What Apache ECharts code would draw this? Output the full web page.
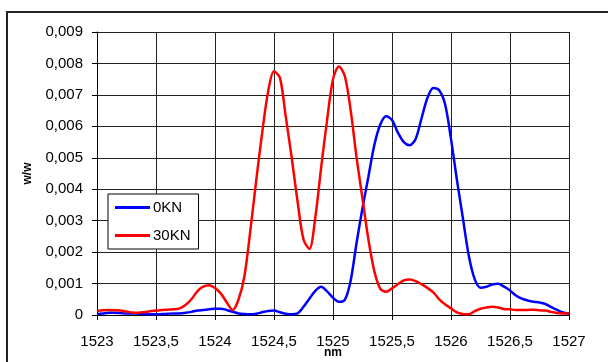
<!DOCTYPE html>
<html>
<head>
<meta charset="utf-8">
<script src="https://cdn.jsdelivr.net/npm/echarts@6/dist/echarts.min.js"></script>
<style>
html, body { margin: 0; padding: 0; background: #fff; }
#main { width: 608px; height: 362px; }
</style>
</head>
<body>
<div id="main"></div>
<script>
// wavelength grid (nm), 0.05 step
var wavelength = [
  1523.00, 1523.05, 1523.10, 1523.15, 1523.20, 1523.25, 1523.30, 1523.35, 1523.40, 1523.45,
  1523.50, 1523.55, 1523.60, 1523.65, 1523.70, 1523.75, 1523.80, 1523.85, 1523.90, 1523.95,
  1524.00, 1524.05, 1524.10, 1524.15, 1524.20, 1524.25, 1524.30, 1524.35, 1524.40, 1524.45,
  1524.50, 1524.55, 1524.60, 1524.65, 1524.70, 1524.75, 1524.80, 1524.85, 1524.90, 1524.95,
  1525.00, 1525.05, 1525.10, 1525.15, 1525.20, 1525.25, 1525.30, 1525.35, 1525.40, 1525.45,
  1525.50, 1525.55, 1525.60, 1525.65, 1525.70, 1525.75, 1525.80, 1525.85, 1525.90, 1525.95,
  1526.00, 1526.05, 1526.10, 1526.15, 1526.20, 1526.25, 1526.30, 1526.35, 1526.40, 1526.45,
  1526.50, 1526.55, 1526.60, 1526.65, 1526.70, 1526.75, 1526.80, 1526.85, 1526.90, 1526.95,
  1527.00
];

// 0KN (blue)
var kn0 = [
  0.00003, 0.00005, 0.00007, 0.00007, 0.00006, 0.00005, 0.00005, 0.00004, 0.00003, 0.00002,
  0.00002, 0.00003, 0.00004, 0.00005, 0.00005, 0.00007, 0.00010, 0.00014, 0.00016, 0.00018,
  0.00020, 0.00020, 0.00016, 0.00010, 0.00005, 0.00003, 0.00002, 0.00004, 0.00009, 0.00013,
  0.00014, 0.00009, 0.00004, 0.00002, 0.00005, 0.00026, 0.00052, 0.00077, 0.00090, 0.00075,
  0.00055, 0.00042, 0.00048, 0.00110, 0.00230, 0.00340, 0.00440, 0.00540, 0.00605, 0.00632,
  0.00620, 0.00580, 0.00550, 0.00540, 0.00560, 0.00625, 0.00690, 0.00722, 0.00715, 0.00670,
  0.00560, 0.00430, 0.00310, 0.00190, 0.00115, 0.00087, 0.00090, 0.00097, 0.00099, 0.00090,
  0.00078, 0.00062, 0.00052, 0.00046, 0.00042, 0.00040, 0.00035, 0.00025, 0.00016, 0.00008,
  0.00005
];

// 30KN (red)
var kn30 = [
  0.00013, 0.00015, 0.00016, 0.00015, 0.00014, 0.00011, 0.00008, 0.00007, 0.00009, 0.00012,
  0.00014, 0.00016, 0.00017, 0.00018, 0.00021, 0.00032, 0.00050, 0.00075, 0.00090, 0.00095,
  0.00086, 0.00068, 0.00040, 0.00016, 0.00050, 0.00125, 0.00270, 0.00430, 0.00580, 0.00710,
  0.00775, 0.00755, 0.00630, 0.00500, 0.00360, 0.00240, 0.00210, 0.00310, 0.00470, 0.00620,
  0.00750, 0.00790, 0.00760, 0.00650, 0.00500, 0.00370, 0.00240, 0.00140, 0.00084, 0.00074,
  0.00085, 0.00098, 0.00110, 0.00113, 0.00108, 0.00098, 0.00086, 0.00072, 0.00050, 0.00034,
  0.00021, 0.00008, 0.00003, 0.00002, 0.00012, 0.00020, 0.00024, 0.00026, 0.00024, 0.00019,
  0.00018, 0.00016, 0.00016, 0.00016, 0.00017, 0.00015, 0.00014, 0.00010, 0.00006, 0.00005,
  0.00005
];

var seriesNames = ['0KN', '30KN'];
var seriesColors = ['#0000ff', '#ff0000'];

function pairs(xs, ys) {
  var out = [];
  for (var i = 0; i < xs.length; i++) out.push([xs[i], ys[i]]);
  return out;
}

var font = 'Liberation Sans, Arial, sans-serif';
var chart = echarts.init(document.getElementById('main'), null, { renderer: 'canvas' });
chart.setOption({
  animation: false,
  backgroundColor: '#fff',
  graphic: [{
    type: 'rect',
    shape: { x: 7, y: 12, width: 700, height: 400 },
    style: { fill: 'none', stroke: '#222', lineWidth: 2 },
    silent: true
  }],
  grid: { left: 97, right: 39, top: 32, bottom: 47, outerBoundsMode: 'none' },
  legend: {
    orient: 'vertical',
    left: 108,
    top: 194,
    padding: [6, 8, 6, 7],
    itemGap: 13,
    itemWidth: 35,
    itemHeight: 3,
    icon: 'rect',
    borderColor: '#000',
    borderWidth: 1,
    backgroundColor: '#fff',
    textStyle: { fontFamily: font, fontSize: 15, color: '#000', padding: [0, 0, 0, -2] },
    data: seriesNames
  },
  xAxis: {
    type: 'value',
    min: 1523,
    max: 1527,
    interval: 0.5,
    name: 'nm',
    nameLocation: 'middle',
    nameGap: 32,
    nameMoveOverlap: false,
    nameTextStyle: { fontFamily: font, fontSize: 12, fontWeight: 'bold', color: '#000' },
    axisLine: { lineStyle: { color: '#000', width: 1 } },
    axisTick: { show: true, length: 5, lineStyle: { color: '#000' } },
    axisLabel: {
      margin: 19,
      fontFamily: font, fontSize: 15, color: '#000',
      formatter: function (v) { return String(v).replace('.', ','); }
    },
    splitLine: { show: true, lineStyle: { color: '#222', width: 1 } }
  },
  yAxis: {
    type: 'value',
    min: 0,
    max: 0.009,
    interval: 0.001,
    name: 'w/w',
    nameLocation: 'middle',
    nameGap: 63,
    nameMoveOverlap: false,
    nameTextStyle: { fontFamily: font, fontSize: 12, fontWeight: 'bold', color: '#000' },
    axisLine: { show: true, lineStyle: { color: '#000', width: 1 } },
    axisTick: { show: true, length: 5, lineStyle: { color: '#000' } },
    axisLabel: {
      margin: 14,
      fontFamily: font, fontSize: 15, color: '#000',
      formatter: function (v) { return v === 0 ? '0' : v.toFixed(3).replace('.', ','); }
    },
    splitLine: { show: true, lineStyle: { color: '#222', width: 1 } }
  },
  series: [{
    name: seriesNames[0],
    type: 'line',
    data: pairs(wavelength, kn0),
    symbol: 'none',
    smooth: 0.3,
    lineStyle: { color: seriesColors[0], width: 2.5 },
    itemStyle: { color: seriesColors[0] }
  }, {
    name: seriesNames[1],
    type: 'line',
    data: pairs(wavelength, kn30),
    symbol: 'none',
    smooth: 0.3,
    lineStyle: { color: seriesColors[1], width: 2.5 },
    itemStyle: { color: seriesColors[1] }
  }]
});
</script>
</body>
</html>
